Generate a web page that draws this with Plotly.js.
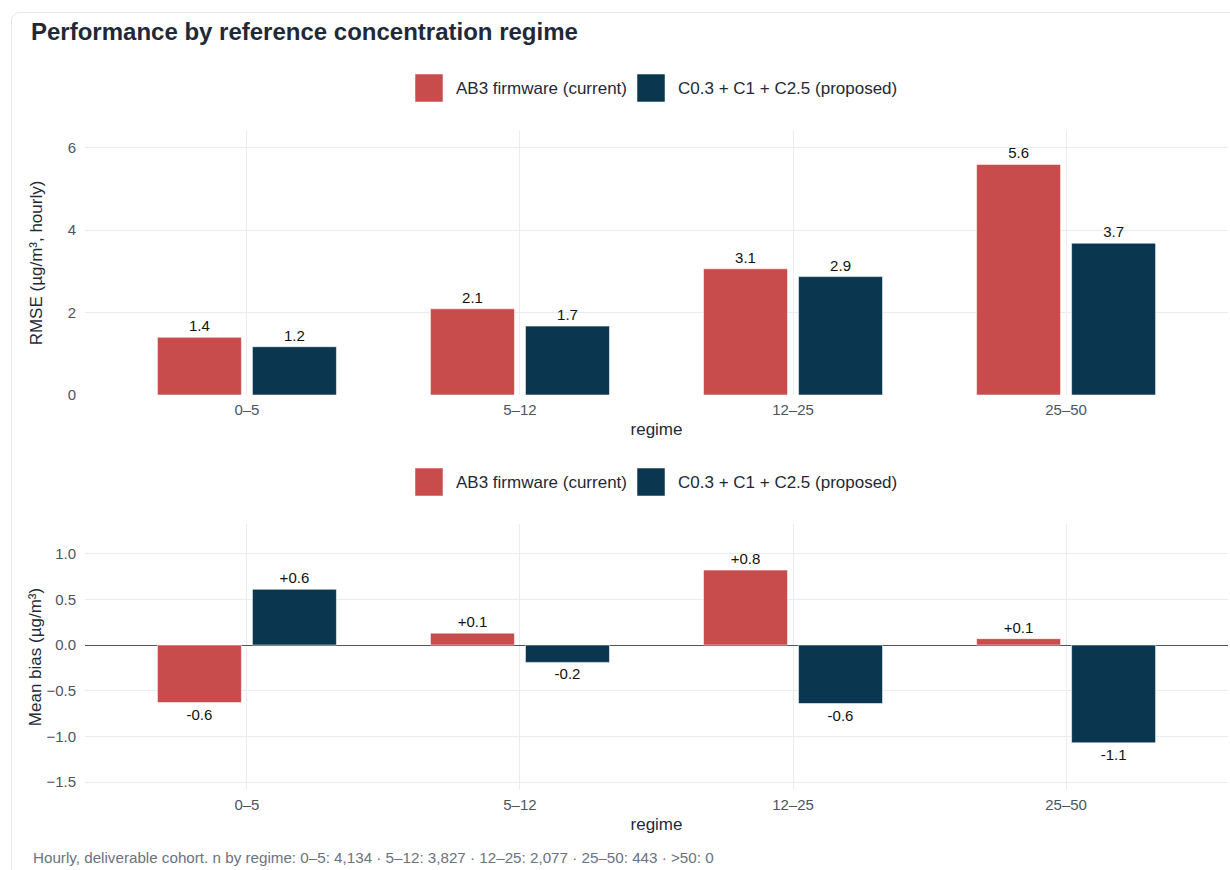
<!DOCTYPE html>
<html><head><meta charset="utf-8">
<script src="https://cdn.plot.ly/plotly-3.0.1.min.js"></script>
<style>
html,body{margin:0;padding:0;width:1230px;height:870px;overflow:hidden;background:#fff;}
#card{position:absolute;left:11px;top:12px;width:1260px;height:900px;border:1px solid #e3e6ec;border-radius:9px;box-sizing:border-box;}
#chart{position:absolute;left:0;top:0;width:1230px;height:870px;}
</style></head><body>
<div id="card"></div><div id="chart"></div>
<script>
const regimes = ['0–5', '5–12', '12–25', '25–50'];
const seriesNames = ['AB3 firmware (current)', 'C0.3 + C1 + C2.5 (proposed)'];
const rmseCurrent = [1.40, 2.09, 3.06, 5.59];
const rmseProposed = [1.17, 1.67, 2.87, 3.68];
const biasCurrent = [-0.63, 0.13, 0.82, 0.07];
const biasProposed = [0.61, -0.19, -0.64, -1.07];
const chartTitle = 'Performance by reference concentration regime';
const footnote = 'Hourly, deliverable cohort. n by regime: 0–5: 4,134 · 5–12: 3,827 · 12–25: 2,077 · 25–50: 443 · >50: 0';

const RED = '#c94c4c', NAVY = '#0b3650';
const FONT = 'Liberation Sans, Arial, Helvetica, sans-serif';
const W = 1230, H = 870, L = 85, R = 1228, T = 131, B = 790;
const px2x = p => (p - L) / (R - L);
const py2y = p => (B - p) / (B - T);

const fmt1 = v => v.toFixed(1);
const fmtSigned = v => (v > 0 ? '+' : '') + v.toFixed(1);

function barTrace(y, color, name, xa, ya, fmt) {
  return {
    type: 'bar', x: regimes, y: y, name: name, xaxis: xa, yaxis: ya,
    marker: {color: color, line: {color: 'rgba(255,255,255,0.55)', width: 1}},
    text: y.map(fmt), textposition: 'outside', cliponaxis: false,
    textfont: {family: FONT, size: 15, color: '#111111'},
    showlegend: false, hoverinfo: 'skip'
  };
}

const data = [
  barTrace(rmseCurrent, RED, seriesNames[0], 'x', 'y', fmt1),
  barTrace(rmseProposed, NAVY, seriesNames[1], 'x', 'y', fmt1),
  barTrace(biasCurrent, RED, seriesNames[0], 'x2', 'y2', fmtSigned),
  barTrace(biasProposed, NAVY, seriesNames[1], 'x2', 'y2', fmtSigned)
];

const grid = '#e9ecf1';
const tickFont = {family: FONT, size: 15, color: '#4b5563'};
const axTitleFont = {family: FONT, size: 17, color: '#1f2937'};

function xAxis(anchor) {
  return {
    anchor: anchor, domain: [0, 1], type: 'category', range: [-0.593, 3.593],
    showgrid: true, gridcolor: grid, zeroline: false, showline: false, ticks: '',
    ticklabelstandoff: 4,
    tickfont: tickFont, title: {text: 'regime', font: axTitleFont, standoff: 6}
  };
}

const legendShapes = [], legendAnn = [];
function addLegend(cy) {
  const items = [{x0: 415, tx: 454, c: RED, t: seriesNames[0]}, {x0: 637, tx: 676, c: NAVY, t: seriesNames[1]}];
  items.forEach(it => {
    legendShapes.push({type: 'rect', xref: 'paper', yref: 'paper',
      x0: px2x(it.x0), x1: px2x(it.x0 + 28), y0: py2y(cy - 14), y1: py2y(cy + 14),
      fillcolor: it.c, line: {color: 'rgba(255,255,255,0.5)', width: 1}});
    legendAnn.push({xref: 'paper', yref: 'paper', x: px2x(it.tx), y: py2y(cy),
      xanchor: 'left', yanchor: 'middle', showarrow: false, text: it.t,
      font: {family: FONT, size: 17, color: '#1f2937'}});
  });
}
addLegend(88);
addLegend(482);

legendAnn.push({xref: 'paper', yref: 'paper', x: px2x(31), y: py2y(857), xanchor: 'left', yanchor: 'middle',
  showarrow: false, text: footnote, font: {family: FONT, size: 15.2, color: '#6b7280'}});

const layout = {
  width: W, height: H,
  margin: {l: L, r: W - R, t: T, b: H - B, pad: 0},
  paper_bgcolor: 'rgba(0,0,0,0)', plot_bgcolor: '#ffffff',
  font: {family: FONT, color: '#1f2937'},
  title: {text: '<b>' + chartTitle + '</b>', x: 31 / W, xanchor: 'left', xref: 'container',
    y: 1 - 32 / H, yanchor: 'middle', yref: 'container', font: {family: FONT, size: 24, color: '#1f2937'}},
  barmode: 'group', bargap: 0.304, bargroupgap: 0.116,
  xaxis: xAxis('y'),
  xaxis2: xAxis('y2'),
  yaxis: {anchor: 'x', domain: [py2y(395), 1], range: [0, 6.4], dtick: 2, tick0: 0,
    showgrid: true, gridcolor: grid, zeroline: false, showline: false, ticks: '',
    ticklabelstandoff: 8,
    tickfont: tickFont, title: {text: 'RMSE (µg/m³, hourly)', font: axTitleFont, standoff: 20}},
  yaxis2: {anchor: 'x2', domain: [0, py2y(524)], range: [-1.586, 1.324], dtick: 0.5, tick0: 0, tickformat: '.1f',
    showgrid: true, gridcolor: grid, zeroline: true, zerolinecolor: '#4b5563', zerolinewidth: 1,
    showline: false, ticks: '', tickfont: tickFont, ticklabelstandoff: 8,
    title: {text: 'Mean bias (µg/m³)', font: axTitleFont, standoff: 0}},
  shapes: legendShapes,
  annotations: legendAnn
};

Plotly.newPlot('chart', data, layout, {displayModeBar: false, responsive: false});
</script>
</body></html>
